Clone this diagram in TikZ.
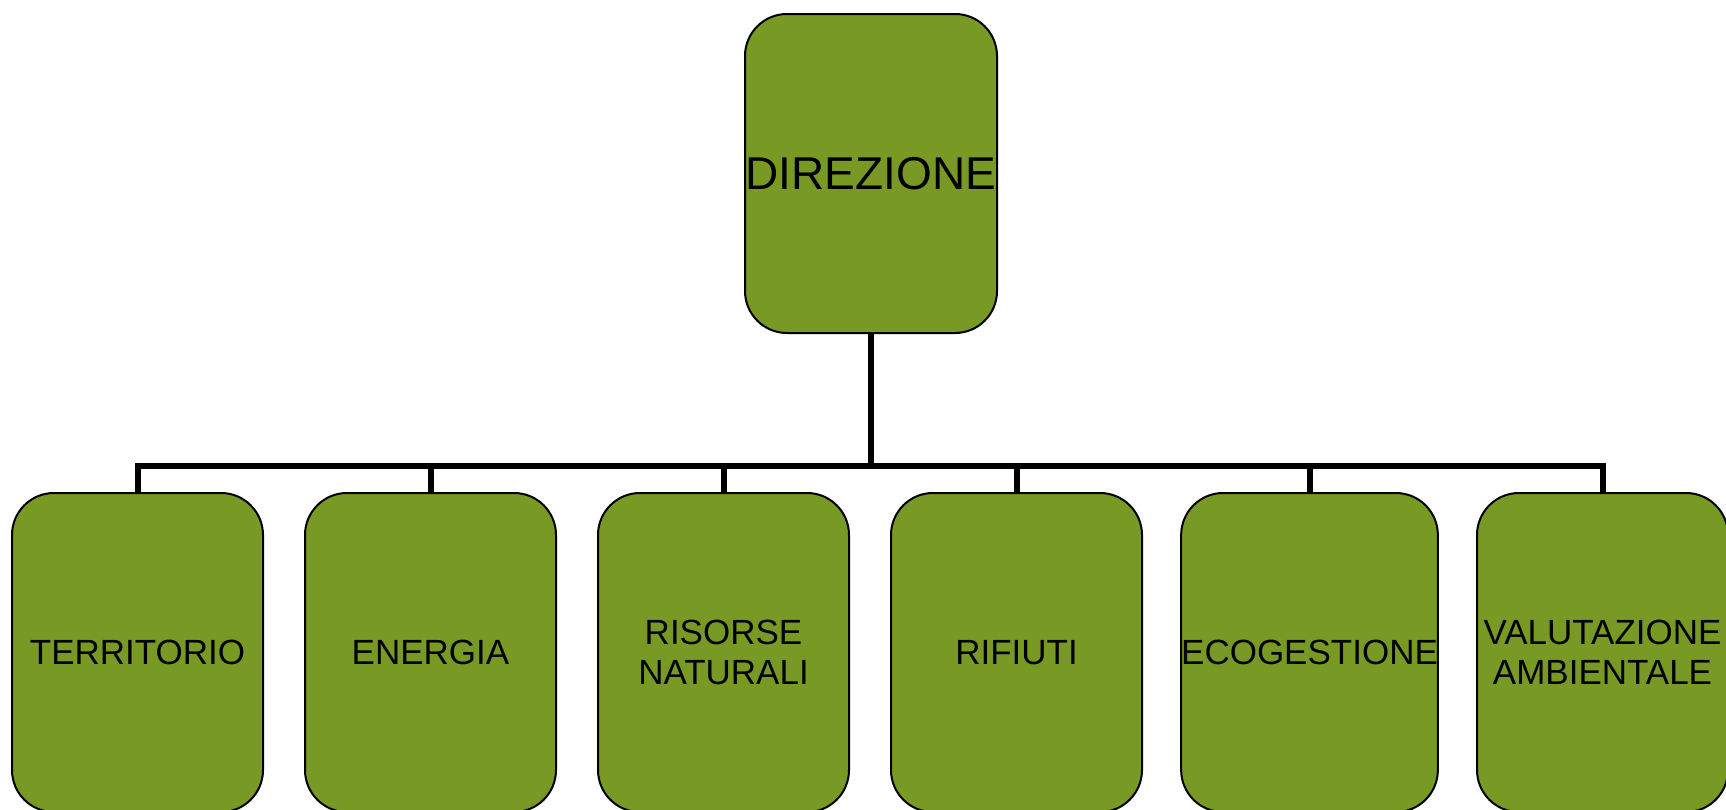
\documentclass[tikz,border=0pt]{standalone}
\usepackage{fontspec}
\setmainfont{Liberation Sans}
\definecolor{boxgreen}{RGB}{120,154,36}
\begin{document}
\begin{tikzpicture}[x=1pt,y=-1pt,
  orgbox/.style={draw=black, line width=2pt, fill=boxgreen, rounded corners=42pt,
    minimum width=251pt, minimum height=319pt, inner sep=0pt, align=center,
    font=\fontsize{35}{40}\selectfont},
  topbox/.style={orgbox, minimum width=252pt, font=\fontsize{46}{52}\selectfont},
  conn/.style={draw=black, line width=6pt}]
\useasboundingbox (0,0) rectangle (1726,809);
\node[topbox] (top) at (871,173.5) {DIREZIONE};
\node[orgbox] (b1) at (137.5,652.5) {TERRITORIO};
\node[orgbox] (b2) at (430.5,652.5) {ENERGIA};
\node[orgbox] (b3) at (723.5,652.5) {RISORSE\\NATURALI};
\node[orgbox] (b4) at (1016.5,652.5) {RIFIUTI};
\node[orgbox] (b5) at (1309.5,652.5) {ECOGESTIONE};
\node[orgbox] (b6) at (1602.5,652.5) {VALUTAZIONE\\AMBIENTALE};
\coordinate (j) at (871,466);
\draw[conn] (top.south) -- (j);
\foreach \b in {b1,b2,b3,b4,b5,b6} {
  \draw[conn] (j) -| (\b.north);
}
\end{tikzpicture}
\end{document}
